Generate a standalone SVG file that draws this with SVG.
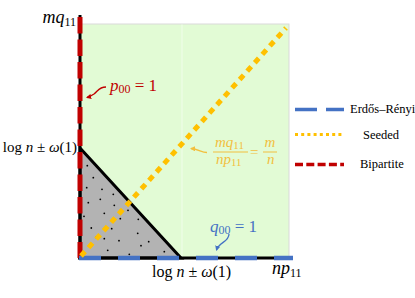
<svg xmlns="http://www.w3.org/2000/svg" width="415" height="298" viewBox="0 0 415 298" font-family="'Liberation Serif', 'Times New Roman', serif">
<defs>
<style>
text{font-family:'Liberation Serif','Times New Roman',serif;fill:#000}
.it{font-style:italic}
.leg{font-size:12.5px}
.red{fill:#c00000}
.blue{fill:#4472c4}
.gold{fill:#f2bf3f}
</style>
<marker id="arR" viewBox="0 0 10 10" refX="8" refY="5" markerWidth="4" markerHeight="4" orient="auto">
<path d="M0,0 L10,5 L0,10 z" fill="#c00000"/>
</marker>
<marker id="arG" viewBox="0 0 10 10" refX="8" refY="5" markerWidth="4" markerHeight="4" orient="auto">
<path d="M0,0 L10,5 L0,10 z" fill="#f2bf3f"/>
</marker>
<marker id="arB" viewBox="0 0 10 10" refX="8" refY="5" markerWidth="4" markerHeight="4" orient="auto">
<path d="M0,0 L10,5 L0,10 z" fill="#4472c4"/>
</marker>
</defs>

<g id="region">
<rect x="80" y="24" width="209" height="234" fill="#e2fbd5" stroke="#d9d9d9" stroke-width="1"/>
<line x1="182" y1="24.5" x2="182" y2="258" stroke="#f0fdea" stroke-width="1"/>
</g>

<g id="triangle">
<polygon points="80,148 181,258 80,258" fill="#b3b3b3" stroke="#000" stroke-width="3" stroke-linejoin="miter"/>
<g fill="#000">
<circle cx="87.3" cy="165.7" r="0.9"/><circle cx="93.3" cy="177.7" r="0.9"/><circle cx="86.7" cy="187.7" r="0.9"/>
<circle cx="102" cy="189.3" r="0.9"/><circle cx="113.3" cy="194.3" r="0.9"/><circle cx="88.3" cy="202.7" r="0.9"/>
<circle cx="100.3" cy="199.3" r="0.9"/><circle cx="114.3" cy="205.3" r="0.9"/><circle cx="128" cy="210.3" r="0.9"/>
<circle cx="104.3" cy="213.3" r="0.9"/><circle cx="84" cy="216.3" r="0.9"/><circle cx="120.3" cy="218.7" r="0.9"/>
<circle cx="138.3" cy="219.3" r="0.9"/><circle cx="91.3" cy="228" r="0.9"/><circle cx="111.7" cy="228.7" r="0.9"/>
<circle cx="96" cy="237.3" r="0.9"/><circle cx="137.7" cy="233.3" r="0.9"/><circle cx="104.3" cy="238.7" r="0.9"/>
<circle cx="119" cy="240.7" r="0.9"/><circle cx="148.7" cy="241.7" r="0.9"/><circle cx="141" cy="245.7" r="0.9"/>
<circle cx="107.7" cy="250.3" r="0.9"/><circle cx="164.3" cy="251.7" r="0.9"/><circle cx="129.3" cy="254.3" r="0.9"/>
</g>
</g>

<g id="connectors">
<line x1="80" y1="15" x2="80" y2="259.5" stroke="#000" stroke-width="3"/>
<line x1="78.5" y1="258" x2="293" y2="258" stroke="#000" stroke-width="3"/>
<line x1="80" y1="17" x2="80" y2="258" stroke="#c00000" stroke-width="5" stroke-dasharray="16.5 6"/>
<line x1="79" y1="258" x2="293" y2="258" stroke="#4472c4" stroke-width="4.5" stroke-dasharray="22 17"/>
<line x1="81" y1="256" x2="286" y2="28" stroke="#ffc000" stroke-width="5" stroke-dasharray="6 5.3"/>
<path d="M106,87 C99,87 98,91 94,94 C91,96 89,97 87,97.5" fill="none" stroke="#c00000" stroke-width="1.3" marker-end="url(#arR)"/>
<path d="M207,152.5 C201,152.5 199,149 191,148.5" fill="none" stroke="#f2bf3f" stroke-width="1.3" marker-end="url(#arG)"/>
<path d="M229,234 C229,242 219,242 216.5,250" fill="none" stroke="#4472c4" stroke-width="1.3" marker-end="url(#arB)"/>
</g>

<g id="labels">
<text x="76" y="23" font-size="18" text-anchor="end"><tspan class="it">mq</tspan><tspan font-size="12" dy="3">11</tspan></text>
<text x="77" y="152" font-size="15" text-anchor="end">log <tspan class="it">n</tspan> ± <tspan class="it">ω</tspan>(1)</text>
<text x="152" y="277" font-size="16">log <tspan class="it">n</tspan> ± <tspan class="it">ω</tspan>(1)</text>
<text x="272" y="274" font-size="18"><tspan class="it">np</tspan><tspan font-size="12" dy="3">11</tspan></text>
<text class="red" x="110" y="91" font-size="17"><tspan class="it">p</tspan><tspan font-size="12" dy="2">00</tspan><tspan dy="-2"> = 1</tspan></text>
<text class="blue" x="210" y="232" font-size="17"><tspan class="it">q</tspan><tspan font-size="12" dy="2">00</tspan><tspan dy="-2"> = 1</tspan></text>
<g id="fraction">
<text class="gold" x="215" y="147" font-size="15"><tspan class="it">mq</tspan><tspan font-size="11" dy="2">11</tspan></text>
<line x1="213" y1="152" x2="248" y2="152" stroke="#f2bf3f" stroke-width="1"/>
<text class="gold" x="216" y="164" font-size="15"><tspan class="it">np</tspan><tspan font-size="11" dy="2">11</tspan></text>
<text class="gold" x="250" y="157" font-size="15">=</text>
<text class="gold it" x="264.5" y="147" font-size="15">m</text>
<line x1="263" y1="152" x2="277" y2="152" stroke="#f2bf3f" stroke-width="1"/>
<text class="gold it" x="267" y="164" font-size="15">n</text>
</g>
</g>

<g id="legend">
<line x1="295" y1="109.5" x2="344" y2="109.5" stroke="#4472c4" stroke-width="3.5" stroke-dasharray="22 9"/>
<text class="leg" x="350" y="113">Erdős–Rényi</text>
<line x1="295" y1="134.5" x2="344" y2="134.5" stroke="#ffc000" stroke-width="3" stroke-dasharray="3 3.2"/>
<text class="leg" x="363" y="139">Seeded</text>
<line x1="295" y1="164.5" x2="344" y2="164.5" stroke="#c00000" stroke-width="3.5" stroke-dasharray="8 3.3"/>
<text class="leg" x="360" y="168">Bipartite</text>
</g>
</svg>
